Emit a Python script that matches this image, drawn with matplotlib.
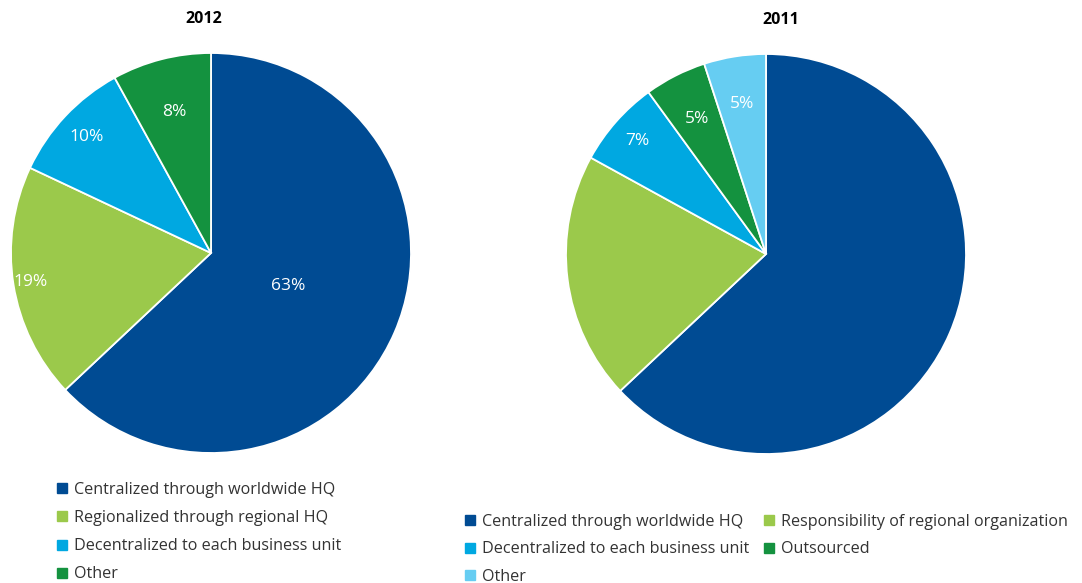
import numpy as np
import matplotlib.pyplot as plt
from matplotlib.lines import Line2D

plt.rcParams['font.family'] = ['Open Sans', 'DejaVu Sans']

# 2012 data
labels_2012 = ["Centralized through worldwide HQ", "Regionalized through regional HQ",
               "Decentralized to each business unit", "Other"]
values_2012 = [63, 19, 10, 8]
colors_2012 = ["#004b93", "#9bc94b", "#00a8e1", "#14923f"]
show_2012 = [True, True, True, True]
dist_2012 = [0.42, 0.915, 0.85, 0.73]

# 2011 data
labels_2011 = ["Centralized through worldwide HQ", "Responsibility of regional organization",
               "Decentralized to each business unit", "Outsourced", "Other"]
values_2011 = [63, 20, 7, 5, 5]
colors_2011 = ["#004b93", "#9bc94b", "#00a8e1", "#14923f", "#66cdf2"]
show_2011 = [False, False, True, True, True]
dist_2011 = [0.5, 0.8, 0.855, 0.76, 0.76]

W, H = 1082, 583
fig = plt.figure(figsize=(W / 100, H / 100), dpi=100)


def draw_pie(cx, cy, r, values, colors, show, dists):
    ax = fig.add_axes([(cx - r) / W, 1 - (cy + r) / H, 2 * r / W, 2 * r / H])
    wedges, _ = ax.pie(values, colors=colors, startangle=90, counterclock=False,
                       wedgeprops=dict(edgecolor="white", linewidth=1.3))
    for w, v, s, d in zip(wedges, values, show, dists):
        if not s:
            continue
        mid = np.deg2rad((w.theta1 + w.theta2) / 2)
        ax.text(d * np.cos(mid), d * np.sin(mid), f"{v}%", color="white",
                ha="center", va="center", fontsize=12.5)
    ax.set_xlim(-1, 1)
    ax.set_ylim(-1, 1)
    ax.set_aspect("equal")
    return ax


draw_pie(211, 253, 200, values_2012, colors_2012, show_2012, dist_2012)
draw_pie(766, 254, 200, values_2011, colors_2011, show_2011, dist_2011)

fig.text(204 / W, 1 - 19 / H, "2012", ha="center", va="center", fontsize=11.5, fontweight="bold")
fig.text(781 / W, 1 - 20 / H, "2011", ha="center", va="center", fontsize=11.5, fontweight="bold")


def handles(colors):
    return [Line2D([], [], marker="s", linestyle="none", markersize=6.5,
                   markerfacecolor=c, markeredgecolor=c) for c in colors]


leg_kw = dict(frameon=False, fontsize=11.6, handlelength=0.6, handletextpad=0.45,
              labelcolor="#333333", borderpad=0, borderaxespad=0)

fig.legend(handles(colors_2012), labels_2012, loc="upper left",
           bbox_to_anchor=(57 / W, 1 - 482 / H), labelspacing=0.75, **leg_kw)

# 2011 legend fills row by row
order = [0, 2, 4, 1, 3]
fig.legend([handles(colors_2011)[i] for i in order], [labels_2011[i] for i in order],
           loc="upper left", bbox_to_anchor=(465 / W, 1 - 514 / H), ncol=2,
           labelspacing=0.7, columnspacing=0.95, **leg_kw)

fig.savefig("out.png", dpi=100, facecolor="white")
